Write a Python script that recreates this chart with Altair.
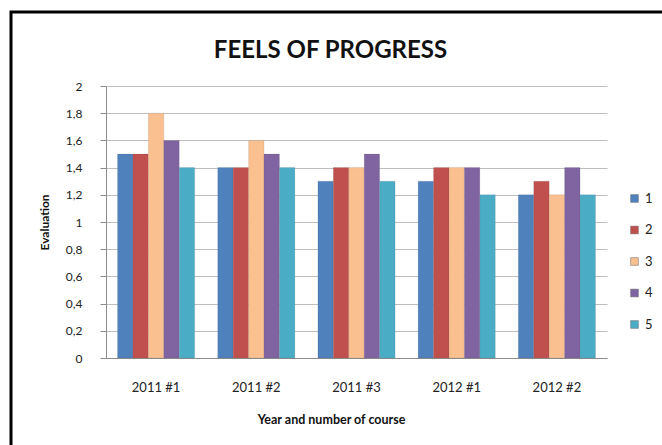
import altair as alt
import pandas as pd

courses = ["2011 #1", "2011 #2", "2011 #3", "2012 #1", "2012 #2"]
series = ["1", "2", "3", "4", "5"]
values_1 = [1.5, 1.4, 1.3, 1.3, 1.2]
values_2 = [1.5, 1.4, 1.4, 1.4, 1.3]
values_3 = [1.8, 1.6, 1.4, 1.4, 1.2]
values_4 = [1.6, 1.5, 1.5, 1.4, 1.4]
values_5 = [1.4, 1.4, 1.3, 1.2, 1.2]
colors = ["#4F81BD", "#C0504D", "#FAC090", "#8064A2", "#4BACC6"]

all_vals = [values_1, values_2, values_3, values_4, values_5]
rows = []
for s, vals in zip(series, all_vals):
    for c, v in zip(courses, vals):
        rows.append({"course": c, "series": s, "value": v})
df = pd.DataFrame(rows)

FONT = "Lato"

bars = alt.Chart(df).mark_bar(stroke="#555555", strokeOpacity=0.25, strokeWidth=0.5).encode(
    x=alt.X("course:N", sort=courses,
            scale=alt.Scale(paddingInner=0.23, paddingOuter=0.115),
            axis=alt.Axis(title="Year and number of course", labelAngle=0,
                          labelFontSize=13, labelColor="#222222", labelPadding=23,
                          ticks=False, domainColor="#8c8c8c",
                          titleFontSize=12.5, titleFontWeight="bold", titlePadding=19,
                          titleX=225, titleColor="#111111")),
    xOffset=alt.XOffset("series:N", sort=series, scale=alt.Scale(paddingInner=0, paddingOuter=0)),
    y=alt.Y("value:Q", scale=alt.Scale(domain=[0, 2]),
            axis=alt.Axis(title="Evaluation", values=[0, 0.2, 0.4, 0.6, 0.8, 1, 1.2, 1.4, 1.6, 1.8, 2],
                          labelExpr="replace(format(datum.value, '~g'), '.', ',')",
                          labelFontSize=12, labelColor="#222222", labelPadding=18,
                          tickSize=6, tickColor="#8c8c8c", domainColor="#8c8c8c",
                          gridColor="#bfbfbf", titleFontSize=12, titleFontWeight="bold",
                          titlePadding=14, titleColor="#111111")),
    color=alt.Color("series:N", sort=series,
                    scale=alt.Scale(domain=series, range=colors),
                    legend=alt.Legend(title=None, orient="none", legendX=522, legendY=106,
                                      symbolType="square", symbolSize=60,
                                      symbolStrokeColor="#666666", symbolStrokeWidth=0.5,
                                      labelFontSize=13, labelColor="#222222",
                                      rowPadding=17.5, labelOffset=4)),
)

border = alt.Chart(pd.DataFrame({"b": [0]})).mark_rect(
    fill=None, stroke="#000000", strokeWidth=3
).encode(
    x=alt.value(-95), x2=alt.value(620), y=alt.value(-74), y2=alt.value(420)
)

chart = alt.layer(border, bars).properties(
    width=501, height=272,
    title=alt.TitleParams("FEELS OF PROGRESS", fontSize=24, fontWeight="bold",
                          font=FONT, color="#111111", anchor="middle", dx=-26,
                          baseline="alphabetic", offset=0, dy=71),
    autosize=alt.AutoSizeParams(type="none"),
    padding={"left": 106, "top": 86, "right": 55, "bottom": 87},
).configure(
    font=FONT, background="white"
).configure_view(stroke=None)

chart.save("out.html", embed_options={"renderer": "svg", "actions": False})
